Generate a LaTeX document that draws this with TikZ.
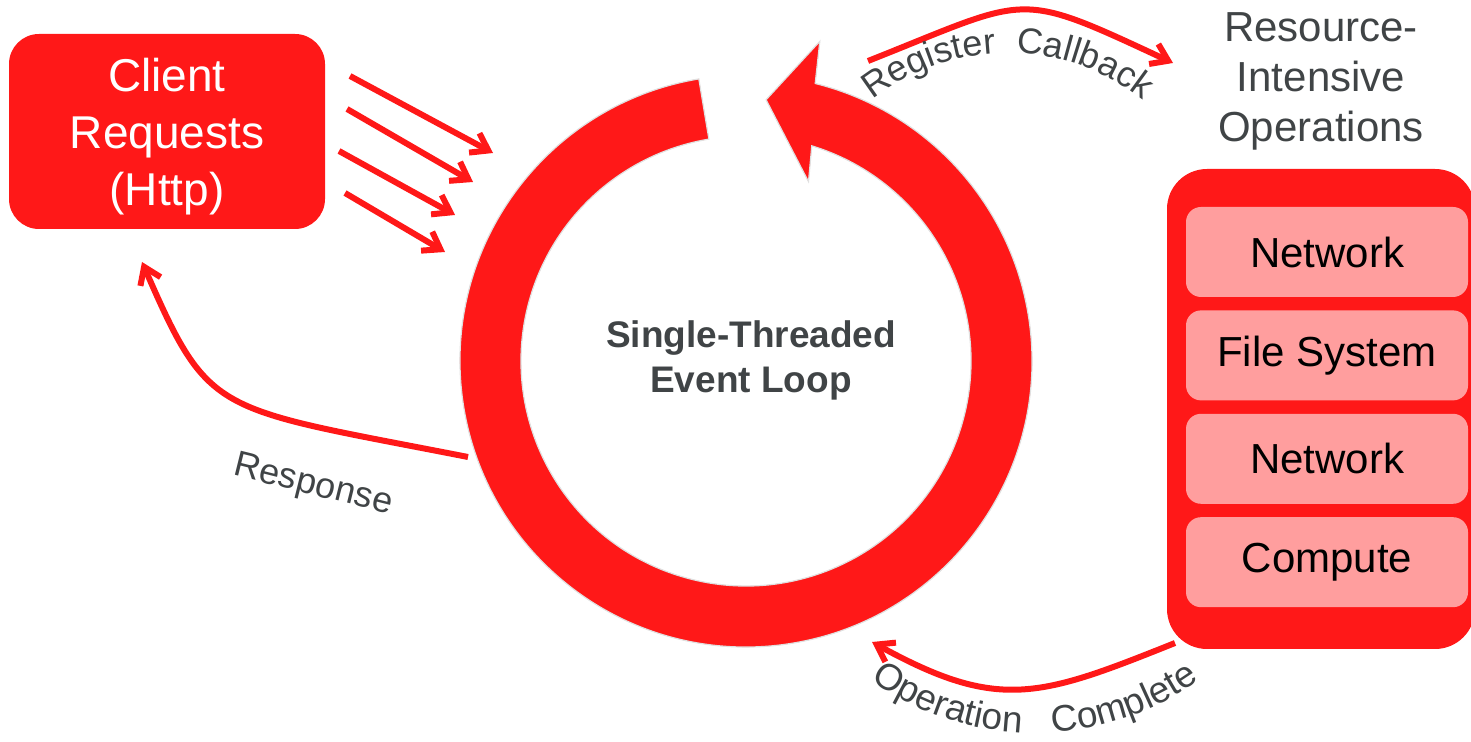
\documentclass[tikz,border=0pt]{standalone}
\usepackage{fontspec}
\setmainfont{Liberation Sans}
\usepackage{tikz}
\usetikzlibrary{positioning,arrows.meta,calc,decorations.text}
\definecolor{evred}{RGB}{255,24,24}
\definecolor{evpink}{RGB}{255,158,158}
\definecolor{evgray}{RGB}{64,68,70}
\newcommand{\evsize}[2]{\fontsize{#1}{#2}\selectfont}
\tikzset{
  reqbox/.style={fill=evred, rounded corners=30pt, minimum width=316pt, minimum height=195pt},
  reqtext/.style={text=white, align=center, font=\evsize{46}{57}, inner sep=0pt},
  opsframe/.style={fill=evred, rounded corners=40pt, minimum width=308pt, minimum height=480pt},
  opsitem/.style={fill=evpink, rounded corners=15pt, minimum width=282pt,
    minimum height=90pt, font=\evsize{42}{50}},
  flowarrow/.style={evred, line width=6pt, -{Straight Barb[length=16pt, width=22pt]}},
  flowlabel/.style={font=\evsize{36}{42}, text=evgray, inner sep=0pt},
}

\begin{document}
\begin{tikzpicture}[x=1pt, y=1pt]
  \useasboundingbox (0,0) rectangle (1471,741);
  \coordinate (ring) at (746,380);
  \fill[evred, draw=black!12, line width=1.2pt] (ring) ++(99.5:286)
    arc[start angle=99.5, end angle=436, radius=286]
    -- ([shift={(77:328)}]ring) -- ([shift={(85.6:262)}]ring) -- ([shift={(70.8:190)}]ring)
    -- ([shift={(73:225)}]ring) arc[start angle=433, end angle=99.5, radius=225] -- cycle;
  \node[font=\bfseries\evsize{37}{45}, text=evgray, align=center] (looptext) at (751,381) {Single-Threaded\\Event Loop};

  \node[reqbox] (client) at (167,609.5) {};
  \node[reqtext] (clienttext) at ([yshift=-5pt]client.center) {Client\\Requests\\(Http)};

  \node[opsframe] (ops) at (1321,332) {};
  \node[opsitem] (net1) at (1327,489) {Network};
  \node[opsitem, below=13pt of net1] (files) {File System};
  \node[opsitem, below=13pt of files] (net2) {Network};
  \node[opsitem, below=13pt of net2] (compute) {Compute};
  \node[font=\evsize{42}{50}, text=evgray, align=center, inner sep=0pt, above=18pt of ops] (opstitle) {Resource-\\Intensive\\Operations};

  \foreach \i/\sx/\sy/\ex/\ey in {1/350/665/493/588, 2/347/632/473/559, 3/339/590/455/526, 4/345/548/445/489} {
    \coordinate (req\i) at (\sx,\sy);
    \coordinate (hit\i) at (\ex,\ey);
    \draw[flowarrow] (req\i) -- (hit\i);
  }

  \coordinate (respfrom) at (468,284);
  \coordinate (respto) at (142,479);
  \draw[flowarrow] (respfrom) .. controls (213,334) and (210,323) .. (respto);
  \node[flowlabel, rotate=-14] (resplabel) at (313,255) {Response};

  \coordinate (regfrom) at (868,680);
  \coordinate (regto) at (1173,678);
  \draw[flowarrow] (regfrom) .. controls (1032,745) and (1014,752) .. (regto);
  \coordinate (regarc) at (1008,470);
  \path[decorate, decoration={text along path, text align=center,
      text={|\evsize{36}{42}\color{evgray}|Register{ }{ }Callback}}]
    (regarc) ++(150:218) arc[start angle=150, end angle=30, radius=218];

  \coordinate (donefrom) at (1175,98);
  \coordinate (doneto) at (872,99);
  \draw[flowarrow] (donefrom) .. controls (1040,44) and (999,29) .. (doneto);
  \coordinate (donearc) at (1035,290);
  \path[decorate, decoration={text along path, text align=center,
      text={|\evsize{37}{42}\color{evgray}|Operation{ }{ }{ }Complete}}]
    (donearc) ++(230:282) arc[start angle=230, end angle=310, radius=282];
\end{tikzpicture}
\end{document}
